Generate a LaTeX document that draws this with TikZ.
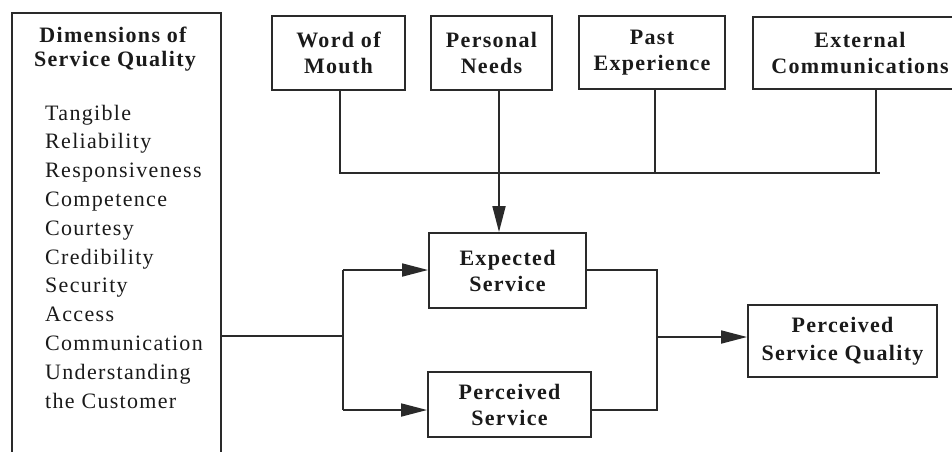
\documentclass[tikz,border=0pt]{standalone}
\usepackage{fontspec}
\setmainfont{Liberation Serif}
\newfontfamily\spaced[LetterSpace=6]{Liberation Serif}
\usetikzlibrary{arrows.meta}
\definecolor{ink}{HTML}{2A2A2A}
\definecolor{txt}{HTML}{1A1A1A}
\begin{document}
\begin{tikzpicture}[x=1pt,y=-1pt,
  box/.style={draw=ink,line width=1.9pt,inner sep=0pt,align=center,text=txt,
    font=\fontsize{22}{26}\spaced\bfseries},
  wire/.style={draw=ink,line width=1.8pt},
  arr/.style={wire,-{Triangle[length=26pt,width=13pt]}},
  headline/.style={anchor=base,inner sep=0pt,text=txt,font=\fontsize{22}{24}\spaced\bfseries},
  item/.style={anchor=base west,inner sep=0pt,text=txt,font=\fontsize{22}{24}\spaced}
]
\useasboundingbox (0,0) rectangle (952,451);

% left panel (runs past the lower edge)
\node[draw=ink,line width=1.9pt,minimum width=209pt,minimum height=457pt] (dims) at (116.5,241.5) {};
\node[headline] (dtitleA) at (113,42) {Dimensions of};
\node[headline] (dtitleB) at (115,66) {Service Quality};
\foreach \t [count=\i] in {Tangible,Reliability,Responsiveness,Competence,Courtesy,
    Credibility,Security,Access,Communication,Understanding,the Customer}
  \node[item] (item\i) at (45,{120+28.8*(\i-1)}) {\t};

% antecedents of expectation
\node[box,minimum width=133pt,minimum height=74pt] (wom) at (338.5,53) {Word of\\Mouth};
\node[box,minimum width=121pt,minimum height=74pt] (pn)  at (491.5,53) {Personal\\Needs};
\node[box,minimum width=146pt,minimum height=73pt] (pe)  at (652,52.5) {Past\\Experience};
\node[box,minimum width=214pt,minimum height=72pt] (ec)  at (860,53) {External\\Communications};

% service boxes
\node[box,minimum width=157pt,minimum height=75pt] (es)  at (507.5,270.5) {Expected\\Service};
\node[box,minimum width=163pt,minimum height=65pt] (ps)  at (509.5,404.5) {Perceived\\Service};
\node[box,minimum width=189pt,minimum height=72pt,font=\fontsize{22}{28}\spaced\bfseries] (psq) at (842.5,341) {Perceived\\Service Quality};

% connector positions
\coordinate (bus) at (0,173);
\coordinate (busend) at (880,173);
\coordinate (xw) at (340,0);
\coordinate (xn) at (499,0);
\coordinate (xp) at (655,0);
\coordinate (xe) at (876,0);
\coordinate (jl) at (343,336);
\coordinate (jr) at (657,337);
\coordinate (upper) at (0,270);
\coordinate (lower) at (0,410);

% collecting bus
\draw[wire] (xw |- wom.south) -- (xw |- bus) -- (busend);
\draw[wire] (xp |- pe.south) -- (xp |- bus);
\draw[wire] (xe |- ec.south) -- (xe |- bus);
\draw[arr] (xn |- pn.south) -- (xn |- es.north);

% dimensions feed both services
\draw[wire] (dims.east |- jl) -- (jl);
\draw[wire] (jl |- upper) -- (jl |- lower);
\draw[arr] (jl |- upper) -- (es.west |- upper);
\draw[arr] (jl |- lower) -- (ps.west |- lower);

% comparison into perceived quality
\draw[wire] (es.east |- upper) -- (jr |- upper) -- (jr |- lower) -- (ps.east |- lower);
\draw[arr] (jr) -- (psq.west |- jr);
\end{tikzpicture}
\end{document}
